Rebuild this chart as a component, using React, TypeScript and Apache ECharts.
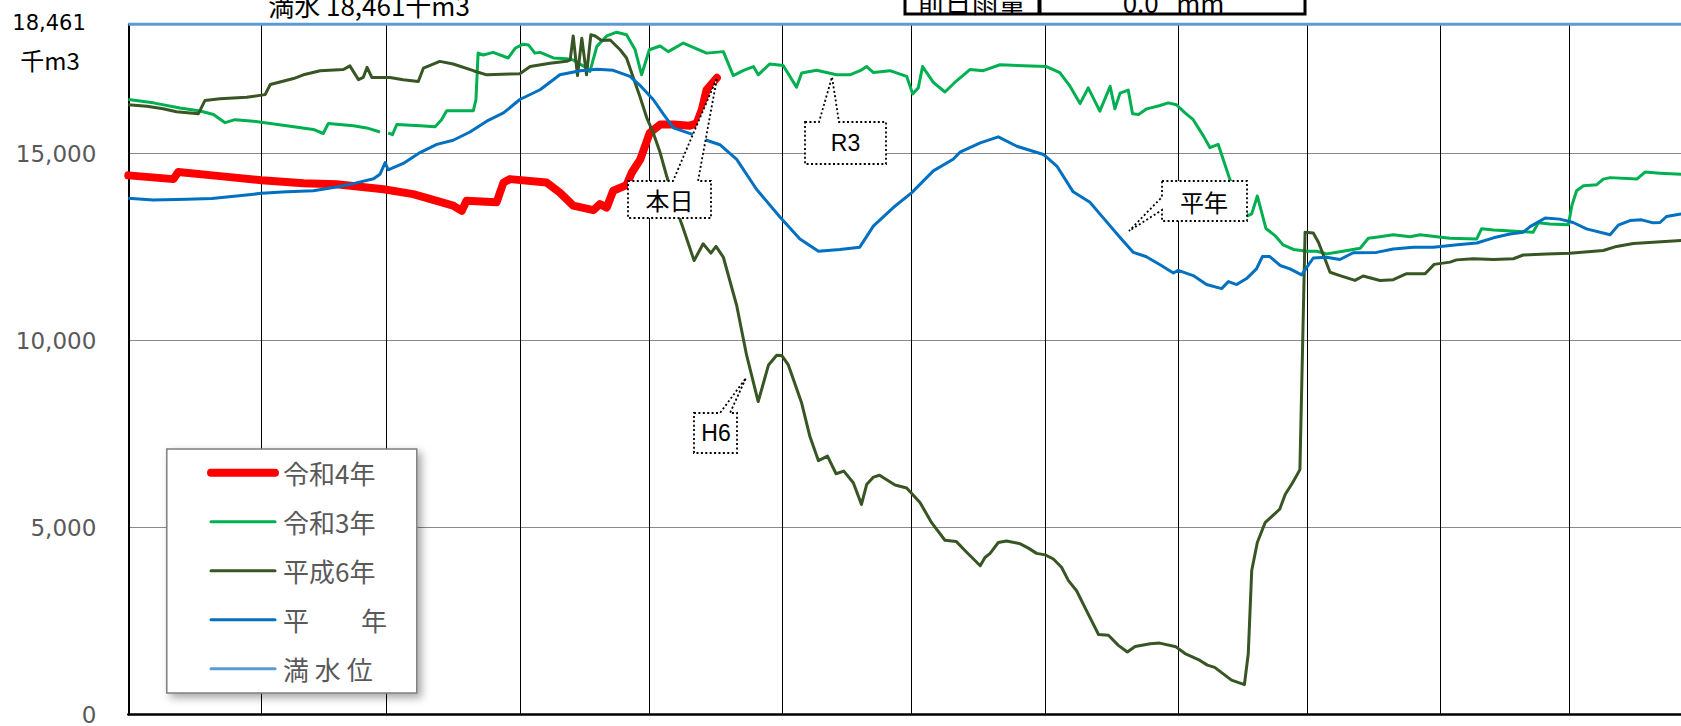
import React, { useEffect, useRef } from "react";
import * as echarts from "echarts";

// Day-of-year index (0 = Jan 1, leap-year calendar) where each month starts (vertical grid lines)
const MONTH_STARTS = [31, 60, 91, 121, 152, 182, 213, 244, 274, 305, 335];
const VISIBLE_DAYS = 360.87; // the chart is cut at the right edge in mid-December
const FULL_STORAGE = 18461; // 満水 (千m3)
const Y_INTERVAL = 5000;

const SERIES_NAMES = ["令和4年", "令和3年", "平成6年", "平　　年", "満 水 位"];

// 令和4年 (current year, up to 本日)
const R4: (number | string)[][] = [
  [0, 14420], [10.5, 14320], [11.6, 14510], [21.3, 14400], [31, 14290], [40.7, 14210],
  [48.4, 14180], [59.3, 14050], [66.2, 13920], [71.7, 13740], [75.5, 13610], [77.5, 13470],
  [78.6, 13740], [85.6, 13700], [87.2, 14230], [88.7, 14320], [97.2, 14230], [100.3, 13960],
  [103.4, 13610], [108.1, 13490], [109.6, 13650], [111.2, 13560], [112.7, 14010], [115.8, 14160],
  [117, 14490], [119, 14850], [121.2, 15560], [123.6, 15780], [126.7, 15780], [130.5, 15750],
  [132.1, 15810], [133.3, 16180], [134.4, 16710], [136.8, 17030],
];

// 令和3年
const R3: (number | string)[][] = [
  [0, 16450], [5.8, 16360], [12, 16220], [16.7, 16140], [19.8, 16050], [22.5, 15830],
  [24.8, 15910], [29.1, 15870], [36.8, 15750], [43, 15650], [45.3, 15540], [46.5, 15810],
  [52.3, 15750], [55.4, 15690], [58.5, 15580], [59.5, "-"], [60.4, 15560], [61.4, 15510],
  [62.4, 15780], [67.8, 15750], [71.3, 15720], [72.8, 15910], [74, 16150], [80.2, 16150],
  [80.8, 16450], [81.3, 17690], [82.5, 17640], [84.8, 17710], [88.3, 17560], [89.9, 17820],
  [91.8, 17930], [93, 17910], [94.5, 17690], [95.7, 17710], [98.8, 17560], [101.9, 17540],
  [103.4, 17510], [106.5, 17290], [107.3, 17200], [108.9, 17870], [111.2, 18150], [113.5, 18250],
  [115.8, 18180], [117.8, 17780], [119.3, 17110], [121.1, 17780], [123.6, 17880], [125.5, 17730],
  [129, 17960], [134.4, 17690], [138.3, 17730], [140.6, 17090], [143, 17230], [145.3, 17330],
  [146.4, 17110], [149.1, 17400], [152.2, 17360], [155.3, 16780], [156.5, 17160], [160, 17230],
  [164.6, 17110], [167.7, 17110], [170.1, 17220], [171.6, 17330], [173.2, 17170], [177, 17220],
  [180.9, 17070], [182.3, 16600], [183.6, 16760], [184.6, 17330], [187.1, 16910], [189.8, 16650],
  [192.5, 16950], [195.6, 17250], [198.7, 17220], [202.6, 17380], [208, 17350], [213.4, 17330],
  [216.5, 17170], [218.9, 16800], [221.2, 16340], [223.1, 16760], [225.8, 16140], [228.2, 16800],
  [229.3, 16200], [230.5, 16620], [232.4, 16700], [233.4, 16070], [234.8, 16050], [236.7, 16200],
  [239.8, 16290], [241.7, 16360], [243.6, 16310], [245.6, 16090], [247.5, 15910], [249.9, 15470],
  [251.4, 15160], [253.3, 15250], [256, 14320], [260.1, 13340], [261.1, 13390], [262.4, 13870],
  [264.4, 13000], [266.5, 12810], [268.4, 12560], [270.8, 12440], [273.9, 12390], [276.2, 12390],
  [278.5, 12320], [281.6, 12380], [286.3, 12470], [288.2, 12740], [290.9, 12780], [294, 12830],
  [297.9, 12780], [300.2, 12830], [304.1, 12780], [307.2, 12740], [313.4, 12720], [314.5, 12990],
  [317.3, 12960], [323.4, 12920], [326.5, 12900], [327.7, 13150], [330.4, 13120], [334.7, 13100],
  [335.5, 13610], [336.6, 14010], [338.2, 14140], [341.3, 14170], [342.8, 14320], [344.4, 14360],
  [350.6, 14320], [352.5, 14510], [356, 14480], [360.9, 14450],
];

// 平成6年
const H6: (number | string)[][] = [
  [0, 16310], [4.3, 16270], [8.1, 16200], [11.2, 16120], [16.3, 16070], [17.8, 16420],
  [21.3, 16470], [27.5, 16510], [30.6, 16560], [31.8, 16580], [33, 16850], [38.4, 17010],
  [40.7, 17110], [44.6, 17220], [50, 17250], [51.5, 17350], [53.5, 16980], [54.6, 17040],
  [55.5, 17310], [56.6, 17040], [60.8, 17040], [63.9, 16980], [67.4, 16930], [68.6, 17290],
  [72.4, 17470], [75.5, 17400], [80.2, 17220], [83.3, 17110], [91, 17140], [93.4, 17330],
  [98, 17420], [101.9, 17470], [102.7, 17510], [103.4, 18150], [104.4, 17090], [105.4, 18090],
  [106.5, 17110], [107.5, 18180], [108.5, 18150], [110, 18030], [112, 18040], [114.3, 17780],
  [115.8, 17560], [117.8, 16890], [118.9, 16530], [120.5, 15960], [122, 15560], [123.6, 15030],
  [125.1, 14410], [128.2, 13250], [129, 12990], [131.5, 12140], [133.6, 12590], [135.4, 12340],
  [136.6, 12520], [138.3, 12230], [141.4, 10940], [143.7, 9610], [146.4, 8370], [148.8, 9350],
  [150.7, 9610], [151.9, 9600], [153.4, 9350], [156.5, 8330], [158.4, 7440], [160.4, 6790],
  [162.5, 6910], [164.5, 6440], [166.3, 6510], [168.5, 6200], [170.4, 5620], [171.6, 6150],
  [173.2, 6350], [174.6, 6400], [178.2, 6140], [180.9, 6060], [184, 5670], [186.7, 5130],
  [189.8, 4660], [192.4, 4630], [194.5, 4380], [198, 3980], [199.1, 4200], [200.3, 4310],
  [202.2, 4600], [204.1, 4640], [207.2, 4570], [209.2, 4450], [211.1, 4310], [213.1, 4270],
  [215, 4160], [216.9, 3940], [218.5, 3580], [220.4, 3310], [222.7, 2780], [225.5, 2140],
  [227.8, 2120], [230.1, 1850], [232.2, 1670], [234, 1820], [237.5, 1890], [239.7, 1910],
  [243.5, 1810], [245.6, 1630], [248.7, 1470], [250.8, 1320], [252.5, 1260], [256.4, 920],
  [259.4, 800], [260.3, 1630], [261.1, 3850], [262.4, 4600], [264.2, 5130], [267.6, 5490],
  [268.9, 5890], [270.6, 6200], [272.3, 6550], [273.5, 12900], [275.4, 12880], [276.6, 12630],
  [278.1, 12190], [279.3, 11830], [281.6, 11740], [285.1, 11610], [287, 11730], [290.9, 11610],
  [294, 11630], [297.1, 11790], [301.4, 11790], [303.5, 12040], [307.2, 12100], [308.7, 12160],
  [312.6, 12190], [317.3, 12170], [321.9, 12190], [324.2, 12290], [329.6, 12320], [335, 12340],
  [342.8, 12410], [345.9, 12520], [349.8, 12600], [354.4, 12630], [360.9, 12680],
];

// 平年 (average year)
const AVG: (number | string)[][] = [
  [0, 13810], [5.8, 13760], [13.6, 13780], [19.4, 13800], [25.2, 13870], [31, 13940],
  [36.8, 13980], [43, 14010], [48.4, 14110], [52.3, 14200], [57, 14330], [58.5, 14450],
  [59.7, 14760], [60.4, 14570], [63.9, 14740], [67.8, 15030], [71.7, 15250], [75.5, 15360],
  [79.4, 15580], [83.3, 15870], [87.2, 16090], [91, 16450], [95.7, 16710], [100.3, 17110],
  [105, 17220], [108.9, 17260], [112.7, 17230], [116.6, 17070], [118.9, 16830], [122, 16450],
  [124.4, 16050], [126.7, 15690], [131.3, 15510], [134.4, 15360], [137.5, 15240], [141.4, 14850],
  [146, 14050], [151.5, 13300], [156.1, 12720], [160.4, 12390], [165.4, 12440], [170, 12500],
  [173.2, 13070], [177.8, 13560], [182.1, 13960], [187.1, 14540], [191.7, 14850], [193.3, 15040],
  [198, 15290], [202.2, 15450], [206.5, 15200], [212.7, 14980], [215.8, 14670], [219.6, 13980],
  [223.5, 13700], [225.8, 13390], [230.5, 12760], [233.6, 12360], [236.5, 12250], [239.8, 12030],
  [242.9, 11810], [244, 11880], [247.5, 11740], [250.6, 11500], [254.1, 11390], [255.7, 11580],
  [257.6, 11500], [259.9, 11660], [262.2, 11920], [263.6, 12250], [265.3, 12250], [267.7, 12010],
  [270, 11920], [272.7, 11760], [275.4, 12210], [278.5, 12230], [281.6, 12170], [284.7, 12350],
  [290.1, 12360], [294, 12450], [298.7, 12500], [303.3, 12500], [309.5, 12570], [313.4, 12610],
  [317.3, 12750], [321.1, 12850], [324.2, 12900], [325.8, 13050], [329.3, 13280], [332.7, 13250],
  [335.8, 13160], [338.9, 12990], [344.4, 12830], [346.3, 13090], [349, 13210], [351.7, 13230],
  [354.4, 13150], [356, 13160], [357.5, 13320], [360.9, 13390],
];

// 満水位 (full water level line)
const FULL_LINE: number[][] = [
  [0, FULL_STORAGE],
  [VISIBLE_DAYS, FULL_STORAGE],
];

const CJK = '"Noto Sans CJK JP"';

function callout(points: number[][]) {
  return {
    type: "polygon",
    z: 20,
    shape: { points },
    style: {
      fill: "#ffffff",
      stroke: "#000000",
      lineWidth: 1.8,
      lineDash: [2, 2.4],
    },
  };
}

function label(text: string, x: number, y: number, font: string, fill = "#000", z = 21) {
  return {
    type: "text",
    z,
    x,
    y,
    style: {
      text,
      font,
      fill,
      align: "center",
      verticalAlign: "middle",
      textAlign: "center",
      textVerticalAlign: "middle",
    },
  };
}

export default function App() {
  const ref = useRef<HTMLDivElement>(null);

  useEffect(() => {
    const chart = echarts.init(ref.current!, null, { renderer: "svg" });

    const legendWidths = [8, 3, 3, 3, 3];

    const option: any = {
      animation: false,
      backgroundColor: "#ffffff",
      grid: { left: 128.3, right: 0, top: 24.3, bottom: 8.2, containLabel: false },
      xAxis: {
        type: "value",
        min: 0,
        max: VISIBLE_DAYS,
        axisLine: { show: true, onZero: false, lineStyle: { color: "#000", width: 2.5 } },
        axisTick: { show: false },
        axisLabel: { show: false },
        splitLine: { show: false },
      },
      yAxis: {
        type: "value",
        min: 0,
        max: FULL_STORAGE,
        interval: Y_INTERVAL,
        axisLine: { show: true, lineStyle: { color: "#000", width: 2 } },
        axisTick: { show: false },
        axisLabel: {
          color: "#595959",
          fontSize: 23,
          fontFamily: "DejaVu Sans",
          margin: 32,
          showMaxLabel: false,
          formatter: (v: number) => v.toLocaleString("en-US"),
        },
        splitLine: { show: true, lineStyle: { color: "#8a8a8a", width: 1 } },
      },
      legend: {
        show: true,
        orient: "vertical",
        left: 207,
        top: 459.7,
        padding: 0,
        itemWidth: 64,
        itemHeight: 26,
        itemGap: 23,
        selectedMode: false,
        itemStyle: { opacity: 0 },
        data: SERIES_NAMES.map((name, i) => ({
          name,
          itemStyle: { opacity: 0 },
          lineStyle: { width: legendWidths[i], cap: "round" },
        })),
        textStyle: {
          color: "#595959",
          fontSize: 26,
          lineHeight: 26,
          fontFamily: CJK,
          padding: [0, 0, 0, 3],
        },
        z: 6,
      },
      series: [
        {
          name: SERIES_NAMES[0],
          type: "line",
          data: R4,
          symbol: "none",
          lineStyle: { color: "#FF0000", width: 8, cap: "round", join: "round" },
          itemStyle: { color: "#FF0000" },
          markLine: {
            silent: true,
            z: 1,
            symbol: ["none", "none"],
            label: { show: false },
            lineStyle: { color: "#000", width: 1, type: "solid" },
            emphasis: { disabled: true },
            data: MONTH_STARTS.map((d) => ({ xAxis: d })),
          },
        },
        {
          name: SERIES_NAMES[1],
          type: "line",
          data: R3,
          symbol: "none",
          connectNulls: false,
          lineStyle: { color: "#00B050", width: 3, join: "round" },
          itemStyle: { color: "#00B050" },
        },
        {
          name: SERIES_NAMES[2],
          type: "line",
          data: H6,
          symbol: "none",
          lineStyle: { color: "#375623", width: 3, join: "round" },
          itemStyle: { color: "#375623" },
        },
        {
          name: SERIES_NAMES[3],
          type: "line",
          data: AVG,
          symbol: "none",
          lineStyle: { color: "#0070C0", width: 3, join: "round" },
          itemStyle: { color: "#0070C0" },
        },
        {
          name: SERIES_NAMES[4],
          type: "line",
          data: FULL_LINE,
          symbol: "none",
          clip: false,
          lineStyle: { color: "#5B9BD5", width: 3 },
          itemStyle: { color: "#5B9BD5" },
        },
      ],
      graphic: [
        // legend frame with shadow
        {
          type: "rect",
          z: 5,
          shape: { x: 166.8, y: 449, width: 250, height: 244 },
          style: {
            fill: "#ffffff",
            stroke: "#7f7f7f",
            lineWidth: 1.5,
            shadowBlur: 8,
            shadowOffsetX: 4,
            shadowOffsetY: 4,
            shadowColor: "rgba(0,0,0,0.35)",
          },
        },
        // title text (cut at the top edge, as in the original)
        label("満水 18,461千m3", 369, 4, `26px ${CJK}`, "#000", 10),
        // rain table
        {
          type: "rect",
          z: 10,
          shape: { x: 905, y: -40, width: 400, height: 54 },
          style: { fill: "#ffffff", stroke: "#000", lineWidth: 3 },
        },
        {
          type: "line",
          z: 11,
          shape: { x1: 1039.5, y1: -40, x2: 1039.5, y2: 14 },
          style: { stroke: "#000", lineWidth: 4 },
        },
        label("前日雨量", 971.5, 1, `27px ${CJK}`, "#000", 12),
        label("0.0   mm", 1173.5, 1, `26px ${CJK}`, "#000", 12),
        // y-axis top label and unit
        label("18,461", 49, 23.3, '21px "DejaVu Sans"', "#000", 10),
        label("千m3", 50, 59, `24px ${CJK}`, "#000", 10),
        // callouts
        callout([[628, 181], [673, 181], [717, 78], [698, 181], [711, 181], [711, 218], [628, 218]]),
        label("本日", 669.5, 199.5, `24px ${CJK}`),
        callout([[805, 122], [819, 122], [832, 77], [839, 122], [886, 122], [886, 164], [805, 164]]),
        label("R3", 845.5, 143.3, '23px "Liberation Sans"'),
        callout([[694, 413], [720, 413], [746, 378], [730, 413], [737, 413], [737, 453], [694, 453]]),
        label("H6", 716, 433.3, '23px "Liberation Sans"'),
        callout([[1162, 181], [1247, 181], [1247, 221], [1162, 221], [1162, 210], [1129, 231], [1162, 197]]),
        label("平年", 1204, 201, `24px ${CJK}`),
      ],
    };

    chart.setOption(option);
    return () => chart.dispose();
  }, []);

  return (
    <div
      ref={ref}
      style={{ position: "fixed", left: 0, top: 0, width: 1681, height: 726, background: "#fff" }}
    />
  );
}
